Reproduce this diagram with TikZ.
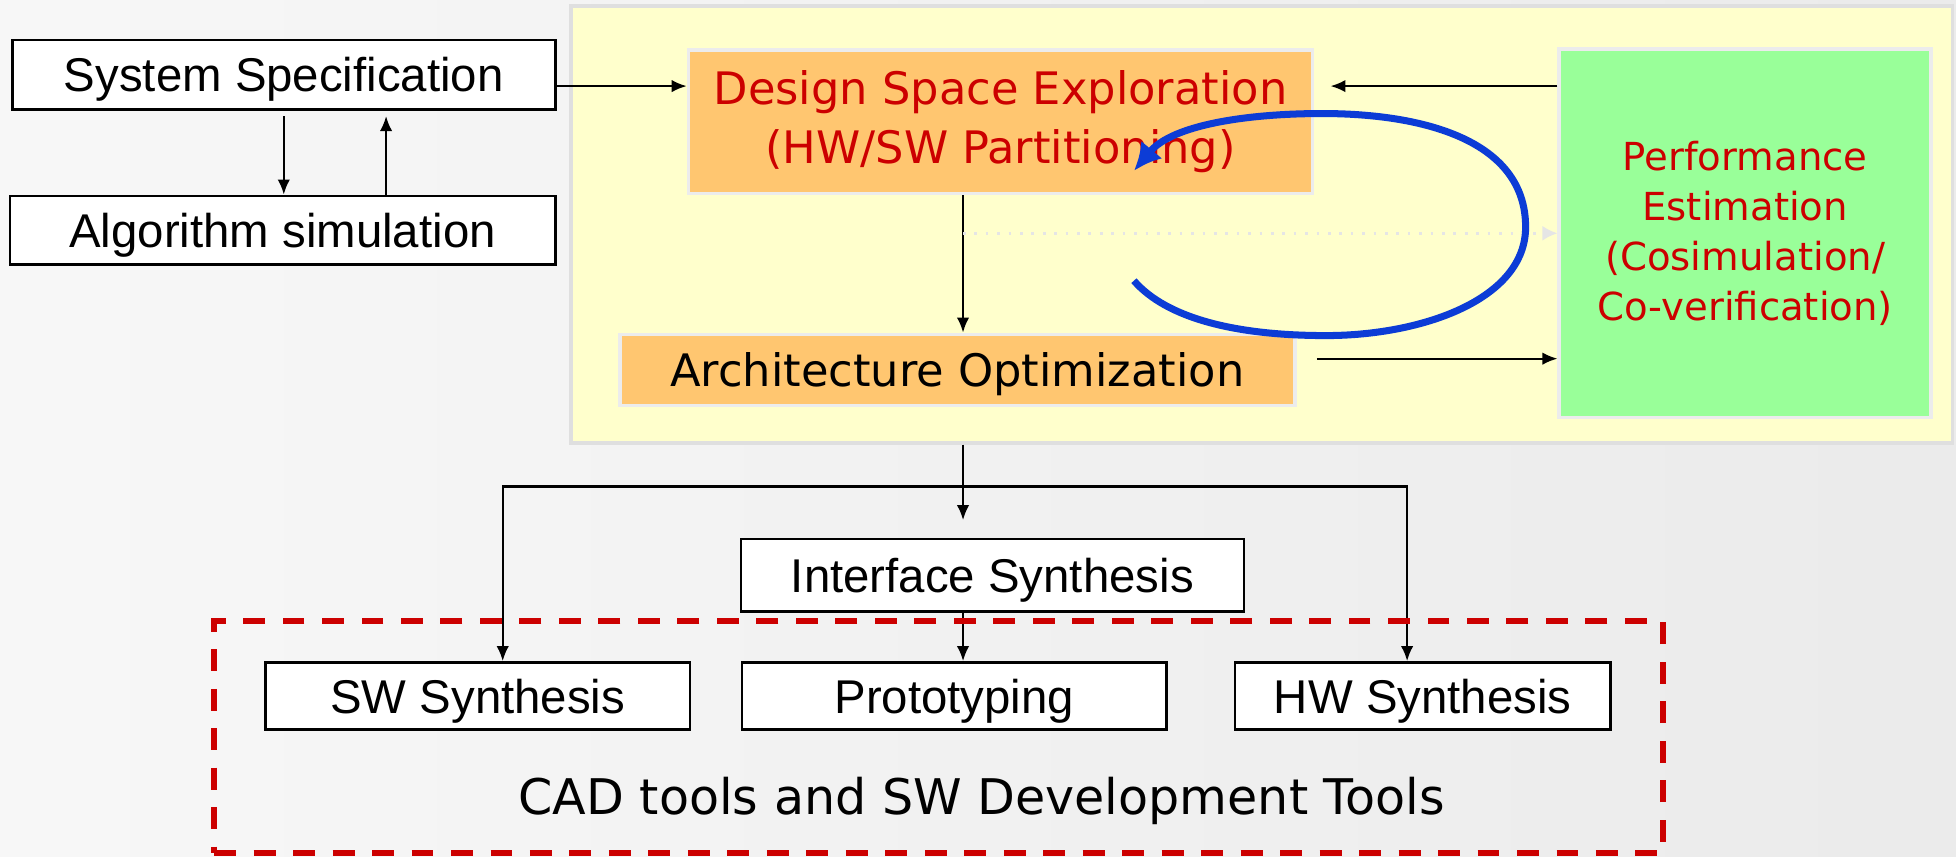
\documentclass[tikz,border=0pt]{standalone}
\usepackage{fontspec}
\setmainfont{Liberation Sans}
\newfontfamily\manual{DejaVu Sans}
\usetikzlibrary{arrows.meta,calc}
\definecolor{amarillo}{RGB}{255,255,204}
\definecolor{naranja}{RGB}{255,198,112}
\definecolor{verde}{RGB}{153,255,153}
\definecolor{rojo}{RGB}{204,0,0}
\definecolor{azul}{RGB}{12,60,214}
\begin{document}
\begin{tikzpicture}[
      x=0.01cm, y=-0.01cm,
      caja/.style={draw, fill=white, line width=0.6pt, inner sep=0pt,
                   text height=0.78em, text depth=0pt,
                   font=\fontsize{10.8}{13}\selectfont},
      bloque/.style={fill=naranja, draw=gray!15, line width=0.8pt, inner sep=0pt,
                     align=center, font=\manual\fontsize{10.2}{13.3}\selectfont},
      estimacion/.style={fill=verde, draw=gray!15, line width=0.8pt, inner sep=0pt,
                         align=center, text=rojo, font=\manual\fontsize{8.8}{11.4}\selectfont},
      panel/.style={fill=amarillo, draw=gray!25, line width=0.8pt, inner sep=0pt},
      herramientas/.style={draw=rojo, line width=1.4pt, dash pattern=on 5pt off 4pt,
                           inner sep=0pt},
      flujo/.style={-{Latex[length=1.2mm,width=1mm]}, line width=0.5pt},
      tenue/.style={-{Latex[length=1.2mm,width=1.2mm]}, draw=gray!20, dotted, line width=0.6pt},
      lazo/.style={-{Latex[length=2.2mm,width=2.2mm]}, draw=azul, line width=1.6pt}
    ]
    \useasboundingbox (0,0) rectangle (1568,687);
    \shade[left color=gray!6, right color=gray!16] (0,0) rectangle (1568,687);

    \node[panel, minimum width=11.07cm, minimum height=3.5cm] (y) at (1011.5,180) {};

    \node[caja, minimum width=4.35cm, minimum height=0.56cm] (s) at (227.5,60) {System Specification};
    \node[caja, minimum width=4.37cm, minimum height=0.55cm] (a) at (226.5,184.5) {Algorithm simulation};
    \node[bloque, text=rojo, minimum width=5cm, minimum height=1.15cm] (d) at (802,97.5)
      {Design Space Exploration\\ (HW/SW Partitioning)};
    \node[bloque, minimum width=5.41cm, minimum height=0.57cm, text height=0.76em, text depth=0pt]
      (o) at (767.5,296.5) {Architecture Optimization};
    \node[estimacion, minimum width=2.98cm, minimum height=2.95cm] (p) at (1399,187)
      {Performance\\ Estimation\\ (Cosimulation/\\ Co-verification)};
    \node[caja, minimum width=4.03cm, minimum height=0.58cm] (i) at (795.5,461) {Interface Synthesis};
    \node[caja, minimum width=3.4cm, minimum height=0.54cm] (sw) at (383,558) {SW Synthesis};
    \node[caja, minimum width=3.4cm, minimum height=0.54cm] (pr) at (765,558) {Prototyping};
    \node[caja, minimum width=3.01cm, minimum height=0.54cm] (hw) at (1140.5,558) {HW Synthesis};

    \coordinate (b)  at (772,390);
    \coordinate (e1) at ($(s.east)+(0,9)$);
    \coordinate (e2) at ($(o.east)+(16,-9)$);

    \draw[flujo] ($(s.south)+(0,4)$) -- (s.south |- a.north);
    \draw[flujo] ($(s.south |- a.north)+(82,0)$) -- ($(s.south)+(82,4)$);
    \draw[flujo] (e1) -- (e1 -| d.west);
    \draw[flujo, shorten >=0.13cm] (p.west |- e1) -- (d.east |- e1);
    \draw[flujo] (b |- d.south) -- (b |- o.north);
    \draw[tenue] (b |- p.west) -- (p.west);
    \draw[flujo] (e2) -- (e2 -| p.west);
    \draw[lazo] (909,225) .. controls (935,255) and (990,269) .. (1063,269)
      .. controls (1140,269) and (1223,240) .. (1223,182)
      .. controls (1223,112) and (1140,91) .. (1060,91)
      .. controls (1000,91) and (940,100) .. (909,137);

    \draw[flujo, shorten >=0.14cm] (b |- y.south) -- (b |- i.north);
    \draw[flujo] (b) -| ($(sw.north)+(20,0)$);
    \draw[flujo] (b) -| ($(hw.north)+(-12.5,0)$);
    \draw[flujo] (b |- i.south) -- (b |- pr.north);

    \node[herramientas, minimum width=11.61cm, minimum height=1.86cm] (c) at (752.5,591) {};
    \node[font=\manual\fontsize{11.2}{13}\selectfont] (t) at (787,642)
      {CAD tools and SW Development Tools};
  \end{tikzpicture}
\end{document}
